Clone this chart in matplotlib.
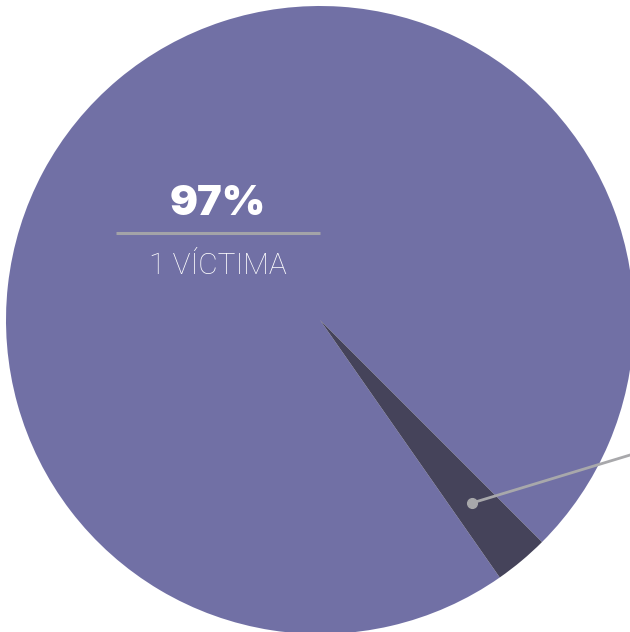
import matplotlib
matplotlib.use("Agg")
import matplotlib.pyplot as plt

# shares
categories = ["1 VÍCTIMA", "otros"]
shares = [97.2, 2.8]
label_pct = "97%"
colors = ["#7170a5", "#45435a"]

W, H = 630, 632
fig = plt.figure(figsize=(W / 100, H / 100), dpi=100)
ax = fig.add_axes([0, 0, 1, 1])

cx, cy, r = 320, H - 320, 314
ax.pie(shares, colors=colors, startangle=-45, counterclock=True,
       center=(cx, cy), radius=r, frame=True,
       wedgeprops=dict(linewidth=0))
ax.set_xlim(0, W)
ax.set_ylim(0, H)
ax.set_aspect("equal")
ax.axis("off")

# label of the big slice
ax.text(218, H - 204, label_pct, color="white", fontsize=30, fontweight=900,
        family="Inter", ha="center", va="center")
ax.plot([116, 320], [H - 233, H - 233], color="#a3a3a8", lw=2.2,
        solid_capstyle="butt")
ax.text(218, H - 266, categories[0], color="white", fontsize=21.5, fontweight="light",
        family="Roboto", ha="center", va="center")

# leader for the small slice
ax.plot([472, 640], [H - 503, H - 452], color="#a8a8ab", lw=2, clip_on=False)
ax.plot([472], [H - 503], "o", color="#a8a8ab", ms=7)

fig.savefig("out.png", dpi=100)
